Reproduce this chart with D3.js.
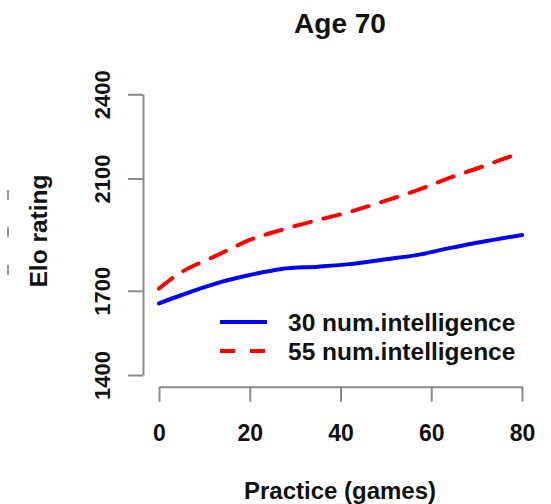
<!DOCTYPE html>
<html>
<head>
<meta charset="utf-8">
<script src="https://cdn.jsdelivr.net/npm/d3@7"></script>
<style>
  html, body { margin: 0; padding: 0; background: #fff; }
  svg { display: block; }
  text { font-family: "Liberation Sans", Arial, sans-serif; font-weight: bold; fill: #111; }
</style>
</head>
<body>
<script>
// ---- data ----
const practice   = [0, 5, 13, 20, 27, 35, 42, 49, 57, 64, 71, 80];
const intel30    = [1655, 1685, 1728, 1756, 1778, 1786, 1795, 1810, 1828, 1852, 1874, 1899];
const intel55    = [1708, 1767, 1828, 1881, 1917, 1952, 1981, 2016, 2059, 2102, 2141, 2194];
const xTicks     = [0, 20, 40, 60, 80];
const yTicks     = [1400, 1700, 2100, 2400];
const seriesNames = ["30 num.intelligence", "55 num.intelligence"];
const seriesColors = ["#0000ff", "#ff0000"];
const title = "Age 70";
const xTitle = "Practice (games)";
const yTitle = "Elo rating";

const W = 551, H = 504;
const svg = d3.select("body").append("svg").attr("width", W).attr("height", H);

const x = d3.scaleLinear().domain([0, 80]).range([159, 522]);
const y = d3.scaleLinear().domain([1400, 2400]).range([375, 94.3]);

const axisColor = "#8a8a8a";

// x axis
const gx = svg.append("g").attr("transform", `translate(0,${386.7})`)
  .call(d3.axisBottom(x).tickValues(xTicks).tickSize(15).tickSizeOuter(0).tickFormat(d3.format("d")));
gx.select(".domain").attr("stroke", axisColor).attr("stroke-width", 2);
gx.selectAll(".tick line").attr("stroke", axisColor).attr("stroke-width", 2);
gx.selectAll(".tick text").attr("y", 54).attr("dy", 0)
  .style("font-size", "23px").style("font-family", "Liberation Sans, Arial, sans-serif").style("font-weight", "bold").attr("fill", "#111");

// y axis
const gy = svg.append("g").attr("transform", `translate(${143},0)`)
  .call(d3.axisLeft(y).tickValues(yTicks).tickSize(15).tickSizeOuter(0).tickFormat(d3.format("d")));
gy.select(".domain").attr("stroke", axisColor).attr("stroke-width", 2);
gy.selectAll(".tick line").attr("stroke", axisColor).attr("stroke-width", 2);
gy.selectAll(".tick text")
  .attr("transform", "rotate(-90)")
  .attr("x", 0).attr("y", -33).attr("dy", 0)
  .attr("text-anchor", "middle")
  .style("font-size", "22px").style("font-family", "Liberation Sans, Arial, sans-serif").style("font-weight", "bold").attr("fill", "#111");

// lines
const line = d3.line().curve(d3.curveCatmullRom.alpha(0.5)).x(d => x(d[0])).y(d => y(d[1]));
const series = [intel30, intel55];
series.forEach((vals, i) => {
  svg.append("path")
    .datum(practice.map((p, j) => [p, vals[j]]))
    .attr("d", line)
    .attr("fill", "none")
    .attr("stroke", seriesColors[i])
    .attr("stroke-width", 4)
    .attr("stroke-linecap", "round")
    .attr("stroke-dasharray", i === 1 ? "17,13" : null);
});

// legend
const leg = svg.append("g");
seriesNames.forEach((name, i) => {
  const yy = 322 + i * 29;
  leg.append("line").attr("x1", 220).attr("x2", 267).attr("y1", yy).attr("y2", yy)
    .attr("stroke", seriesColors[i]).attr("stroke-width", 4)
    .attr("stroke-dasharray", i === 1 ? "15,15" : null);
  leg.append("text").attr("x", 288).attr("y", yy + 8.5).style("font-size", "24.5px").text(name);
});

// titles
svg.append("text").attr("x", 340).attr("y", 33).attr("text-anchor", "middle").style("font-size", "28px").text(title);
svg.append("text").attr("x", 340).attr("y", 499).attr("text-anchor", "middle").style("font-size", "24px").text(xTitle);
svg.append("text").attr("transform", "translate(47,231) rotate(-90)").attr("text-anchor", "middle").style("font-size", "24.5px").text(yTitle);

// faint clipped marks at left edge (from the cropped source)
[195, 232, 270].forEach(v => {
  svg.append("line").attr("x1", 8).attr("x2", 8).attr("y1", v - 5).attr("y2", v + 5)
    .attr("stroke", "#999").attr("stroke-width", 2);
});
</script>
</body>
</html>
